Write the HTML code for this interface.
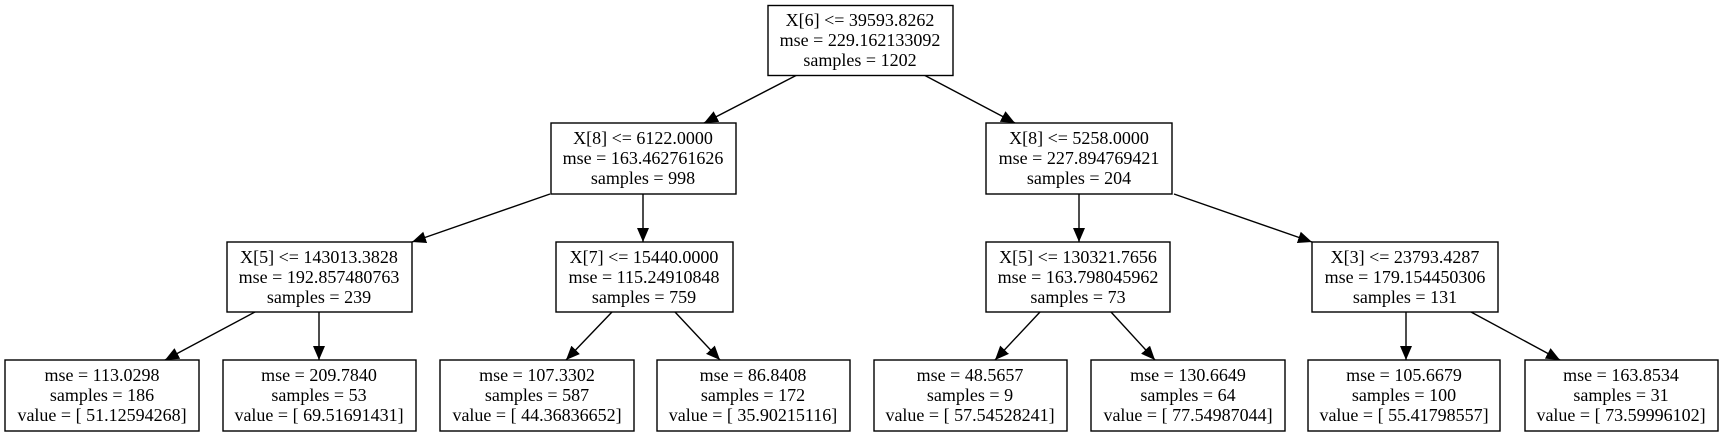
<!DOCTYPE html>
<html><head><meta charset="utf-8"><style>html,body{margin:0;padding:0;background:#fff}svg{display:block}</style></head>
<body>
<svg width="1725" height="437" viewBox="0 0 1725 437" xmlns="http://www.w3.org/2000/svg" font-family="Liberation Serif, serif" font-size="18">
<defs><marker id="a" markerWidth="10" markerHeight="8" refX="10" refY="4" orient="auto" markerUnits="userSpaceOnUse" viewBox="0 0 10 8"><path d="M0,0 L10,4 L0,8 z" fill="#000"/></marker>
<marker id="b" viewBox="0 0 14 12" markerWidth="14" markerHeight="12" refX="14" refY="6" orient="auto" markerUnits="userSpaceOnUse"><path d="M0,0 L14,6 L0,12 z" fill="#000"/></marker></defs>
<g stroke="#000" stroke-width="1.4" fill="none" marker-end="url(#b)">
<line x1="797" y1="75" x2="704" y2="123"/>
<line x1="924" y1="75" x2="1015" y2="123"/>
<line x1="550" y1="194" x2="412" y2="242"/>
<line x1="643" y1="194" x2="643" y2="242"/>
<line x1="1079" y1="194" x2="1079" y2="242"/>
<line x1="1174" y1="194" x2="1312" y2="242"/>
<line x1="255" y1="312" x2="165" y2="360"/>
<line x1="319" y1="312" x2="319" y2="360"/>
<line x1="612" y1="312" x2="566" y2="360"/>
<line x1="675" y1="312" x2="720" y2="360"/>
<line x1="1040" y1="312" x2="995" y2="360"/>
<line x1="1111" y1="312" x2="1155" y2="360"/>
<line x1="1406" y1="312" x2="1406" y2="360"/>
<line x1="1471" y1="312" x2="1560" y2="360"/>
</g>
<g stroke="#000" stroke-width="1.4" fill="#fff">
<rect x="768" y="5.5" width="185" height="70"/>
<rect x="551" y="123" width="185" height="71"/>
<rect x="986" y="123" width="186" height="71"/>
<rect x="227" y="242" width="185" height="70"/>
<rect x="556" y="242" width="177" height="70"/>
<rect x="986" y="242" width="184" height="70"/>
<rect x="1312" y="242" width="186" height="70"/>
<rect x="5" y="360" width="194" height="71"/>
<rect x="223" y="360" width="193" height="71"/>
<rect x="440" y="360" width="194" height="71"/>
<rect x="657" y="360" width="193" height="71"/>
<rect x="874" y="360" width="193" height="71"/>
<rect x="1091" y="360" width="194" height="71"/>
<rect x="1308" y="360" width="192" height="71"/>
<rect x="1525" y="360" width="193" height="71"/>
</g>
<g text-anchor="middle" fill="#000">
<text x="860" y="26">X[6] &lt;= 39593.8262</text><text x="860" y="46">mse = 229.162133092</text><text x="860" y="66">samples = 1202</text>
<text x="643" y="144">X[8] &lt;= 6122.0000</text><text x="643" y="164">mse = 163.462761626</text><text x="643" y="184">samples = 998</text>
<text x="1079" y="144">X[8] &lt;= 5258.0000</text><text x="1079" y="164">mse = 227.894769421</text><text x="1079" y="184">samples = 204</text>
<text x="319" y="263">X[5] &lt;= 143013.3828</text><text x="319" y="283">mse = 192.857480763</text><text x="319" y="303">samples = 239</text>
<text x="644" y="263">X[7] &lt;= 15440.0000</text><text x="644" y="283">mse = 115.24910848</text><text x="644" y="303">samples = 759</text>
<text x="1078" y="263">X[5] &lt;= 130321.7656</text><text x="1078" y="283">mse = 163.798045962</text><text x="1078" y="303">samples = 73</text>
<text x="1405" y="263">X[3] &lt;= 23793.4287</text><text x="1405" y="283">mse = 179.154450306</text><text x="1405" y="303">samples = 131</text>
<text x="102" y="381">mse = 113.0298</text><text x="102" y="401">samples = 186</text><text x="102" y="421">value = [ 51.12594268]</text>
<text x="319" y="381">mse = 209.7840</text><text x="319" y="401">samples = 53</text><text x="319" y="421">value = [ 69.51691431]</text>
<text x="537" y="381">mse = 107.3302</text><text x="537" y="401">samples = 587</text><text x="537" y="421">value = [ 44.36836652]</text>
<text x="753" y="381">mse = 86.8408</text><text x="753" y="401">samples = 172</text><text x="753" y="421">value = [ 35.90215116]</text>
<text x="970" y="381">mse = 48.5657</text><text x="970" y="401">samples = 9</text><text x="970" y="421">value = [ 57.54528241]</text>
<text x="1188" y="381">mse = 130.6649</text><text x="1188" y="401">samples = 64</text><text x="1188" y="421">value = [ 77.54987044]</text>
<text x="1404" y="381">mse = 105.6679</text><text x="1404" y="401">samples = 100</text><text x="1404" y="421">value = [ 55.41798557]</text>
<text x="1621" y="381">mse = 163.8534</text><text x="1621" y="401">samples = 31</text><text x="1621" y="421">value = [ 73.59996102]</text>
</g>
</svg>
</body></html>
